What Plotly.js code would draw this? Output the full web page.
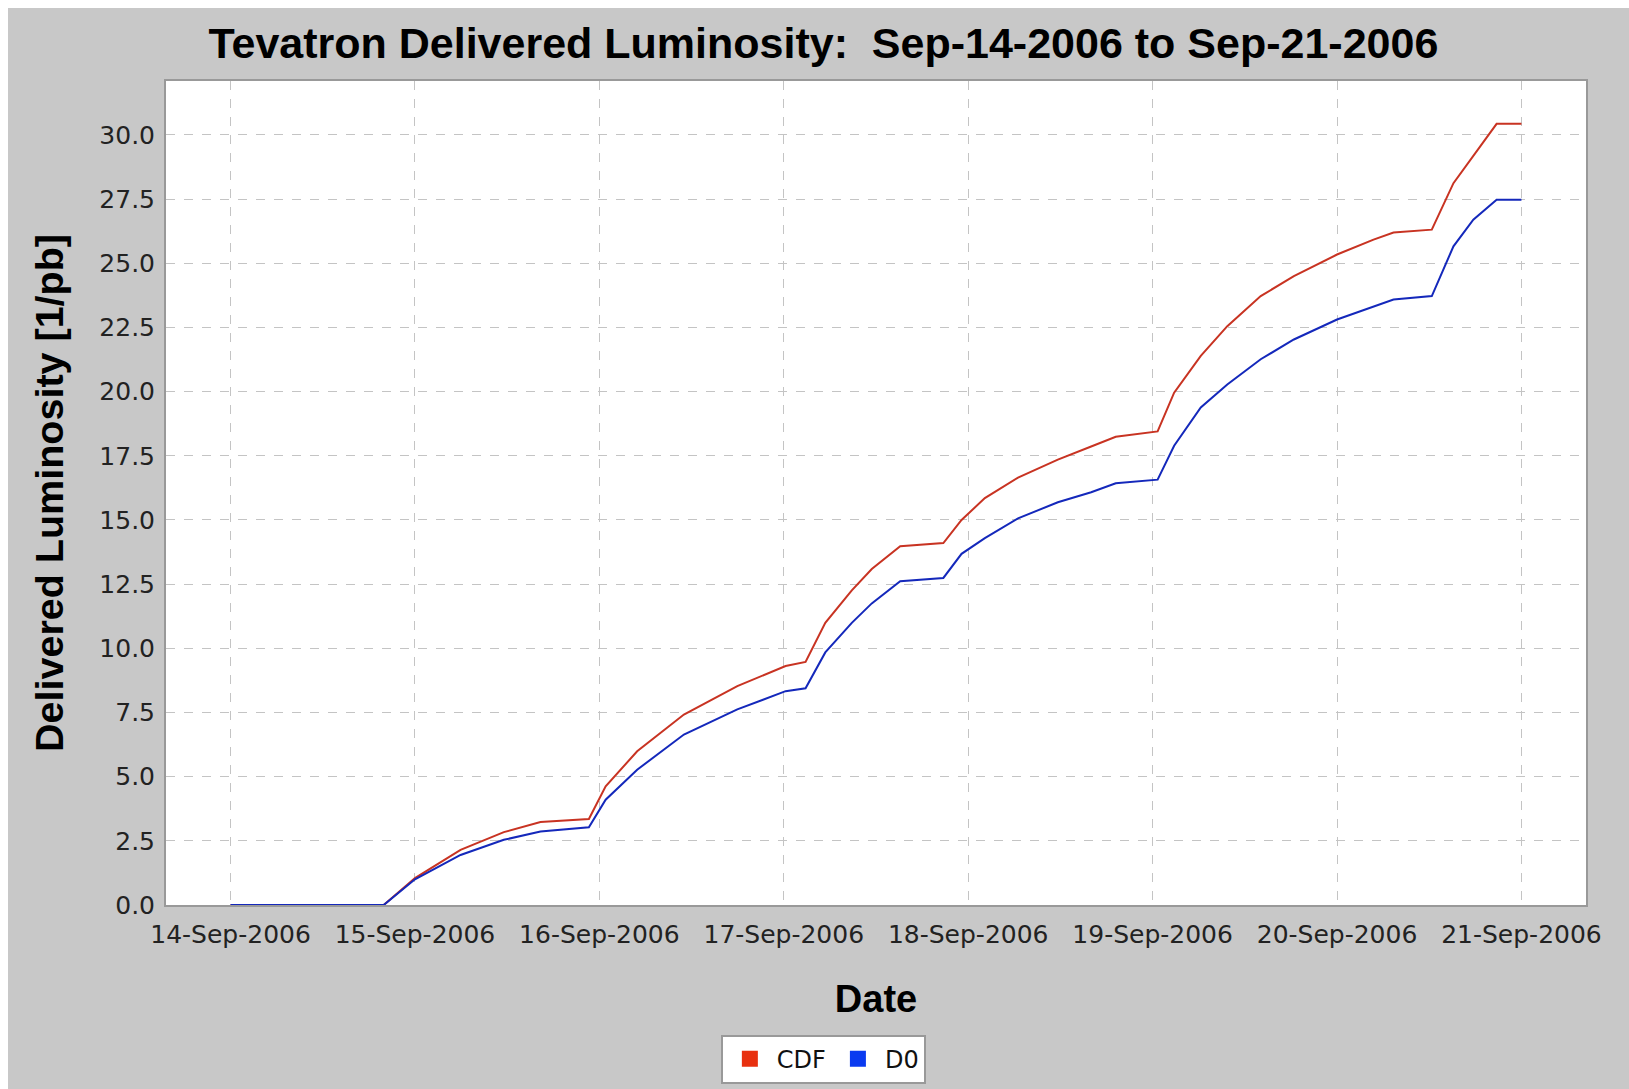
<!DOCTYPE html>
<html>
<head>
<meta charset="utf-8">
<script src="https://cdn.plot.ly/plotly-3.0.1.min.js"></script>
<style>
  html, body { margin: 0; padding: 0; background: #ffffff; }
  #chart { position: absolute; left: 8px; top: 8px; width: 1621px; height: 1081px; }
</style>
</head>
<body>
<div id="chart"></div>
<script>
// Timestamps of the readings
const dates = ['2006-09-14 00:00','2006-09-14 19:56','2006-09-15 00:00','2006-09-15 05:56','2006-09-15 11:34','2006-09-15 16:20','2006-09-15 22:38','2006-09-16 00:49','2006-09-16 04:55','2006-09-16 11:00','2006-09-16 17:57','2006-09-17 00:14','2006-09-17 02:50','2006-09-17 05:24','2006-09-17 08:51','2006-09-17 11:27','2006-09-17 15:09','2006-09-17 20:46','2006-09-17 23:08','2006-09-18 02:10','2006-09-18 06:29','2006-09-18 11:40','2006-09-18 16:00','2006-09-18 19:12','2006-09-19 00:39','2006-09-19 02:48','2006-09-19 06:16','2006-09-19 09:43','2006-09-19 14:04','2006-09-19 18:23','2006-09-20 00:00','2006-09-20 04:45','2006-09-20 07:21','2006-09-20 12:20','2006-09-20 15:09','2006-09-20 17:44','2006-09-20 20:46','2006-09-21 00:00'];
// Delivered luminosity [1/pb]
const cdf = [0,0,1.05,2.15,2.84,3.23,3.35,4.62,5.99,7.42,8.53,9.31,9.47,10.99,12.26,13.09,13.98,14.10,15.0,15.85,16.65,17.35,17.86,18.24,18.45,19.96,21.39,22.55,23.72,24.5,25.34,25.92,26.2,26.31,28.12,29.16,30.43,30.43];
const d0  = [0,0,1.0,1.95,2.54,2.86,3.03,4.10,5.27,6.64,7.62,8.33,8.44,9.84,10.99,11.75,12.61,12.74,13.68,14.29,15.06,15.69,16.08,16.43,16.57,17.89,19.38,20.28,21.26,22.03,22.81,23.33,23.59,23.72,25.66,26.70,27.47,27.47];
const seriesNames = ['CDF', 'D0'];

const chartTitle = 'Tevatron Delivered Luminosity:\u00a0\u00a0Sep-14-2006 to Sep-21-2006';
const xTitle = 'Date';
const yTitle = 'Delivered Luminosity [1/pb]';

const lineColors = ['#c83322', '#1428bb'];
const legendColors = ['#e8300f', '#0a3af0'];

const traces = [
  { x: dates, y: cdf, type: 'scatter', mode: 'lines', name: seriesNames[0],
    line: { color: lineColors[0], width: 2 }, showlegend: false, hoverinfo: 'x+y' },
  { x: dates, y: d0, type: 'scatter', mode: 'lines', name: seriesNames[1],
    line: { color: lineColors[1], width: 2 }, showlegend: false, hoverinfo: 'x+y' },
  // legend swatches
  { x: [null], y: [null], type: 'scatter', mode: 'markers', name: seriesNames[0],
    marker: { symbol: 'square', size: 16, color: legendColors[0] }, showlegend: true },
  { x: [null], y: [null], type: 'scatter', mode: 'markers', name: seriesNames[1],
    marker: { symbol: 'square', size: 16, color: legendColors[1] }, showlegend: true }
];

const layout = {
  width: 1621, height: 1081,
  paper_bgcolor: '#c8c8c8',
  plot_bgcolor: '#ffffff',
  margin: { l: 158, r: 43, t: 73, b: 184 },
  title: {
    text: chartTitle,
    font: { family: 'Liberation Sans, Arial, sans-serif', size: 43, color: '#000000', weight: 'bold' },
    x: 0.503, xref: 'container', xanchor: 'center',
    y: 0.968, yref: 'container', yanchor: 'middle'
  },
  xaxis: {
    type: 'date',
    range: ['2006-09-13 15:36', '2006-09-21 08:24'],
    tick0: '2006-09-14', dtick: 86400000,
    tickformat: '%d-%b-%Y',
    tickfont: { family: 'DejaVu Sans, sans-serif', size: 25, color: '#222222' },
    ticks: '', ticklabelstandoff: 6,
    showgrid: true, gridcolor: '#c4c4c4', griddash: 'dash', gridwidth: 1,
    showline: true, linecolor: '#999999', linewidth: 2, mirror: true,
    zeroline: false,
    title: { text: xTitle, font: { family: 'Liberation Sans, Arial, sans-serif', size: 38, color: '#000000', weight: 'bold' }, standoff: 37 }
  },
  yaxis: {
    range: [0, 32.1],
    tick0: 0, dtick: 2.5,
    tickformat: '.1f',
    tickfont: { family: 'DejaVu Sans, sans-serif', size: 25, color: '#222222' },
    ticks: '', ticklabelstandoff: 4,
    showgrid: true, gridcolor: '#c4c4c4', griddash: 'dash', gridwidth: 1,
    showline: true, linecolor: '#999999', linewidth: 2, mirror: true,
    zeroline: false,
    title: { text: yTitle, font: { family: 'Liberation Sans, Arial, sans-serif', size: 39.5, color: '#000000', weight: 'bold' }, standoff: 24 }
  },
  showlegend: true,
  legend: {
    orientation: 'h',
    xref: 'container', x: 0.503, xanchor: 'center',
    yref: 'container', y: 0.005, yanchor: 'bottom',
    itemwidth: 44,
    bgcolor: '#ffffff', bordercolor: '#999999', borderwidth: 2,
    font: { family: 'DejaVu Sans, sans-serif', size: 24, color: '#111111' }
  }
};

Plotly.newPlot('chart', traces, layout, { displayModeBar: false, staticPlot: true });
</script>
</body>
</html>
